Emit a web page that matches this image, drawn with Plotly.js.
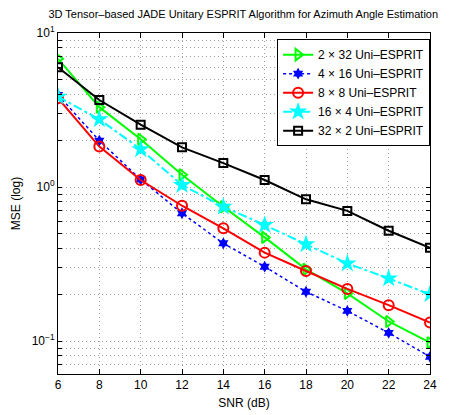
<!DOCTYPE html>
<html><head><meta charset="utf-8">
<script src="https://cdn.plot.ly/plotly-3.0.1.min.js"></script>
<style>body{margin:0;background:#fff}#c{width:453px;height:415px}</style>
</head><body><div id="c"></div>
<script>
const snr = [6, 8, 10, 12, 14, 16, 18, 20, 22, 24];
const names = ["2 \u00d7 32 Uni\u2013ESPRIT", "4 \u00d7 16 Uni\u2013ESPRIT", "8 \u00d7 8 Uni\u2013ESPRIT", "16 \u00d7 4 Uni\u2013ESPRIT", "32 \u00d7 2 Uni\u2013ESPRIT"];
const mse2x32 = [6.8, 3.3, 2.04, 1.2, 0.745, 0.471, 0.292, 0.204, 0.134, 0.0975];
const mse4x16 = [3.96, 2.0, 1.12, 0.675, 0.431, 0.304, 0.209, 0.157, 0.113, 0.079];
const mse8x8  = [3.77, 1.83, 1.11, 0.756, 0.539, 0.375, 0.285, 0.218, 0.171, 0.132];
const mse16x4 = [3.86, 2.75, 1.76, 1.03, 0.745, 0.567, 0.425, 0.319, 0.255, 0.201];
const mse32x2 = [6.0, 3.67, 2.54, 1.81, 1.43, 1.11, 0.832, 0.70, 0.52, 0.403];
const xTicks = [6, 8, 10, 12, 14, 16, 18, 20, 22, 24];
const yMajor = [0.1, 1, 10];
const yMajorText = ["10<sup>\u22121</sup>", "10<sup>0</sup>", "10<sup>1</sup>"];

const yVals = [], yText = [];
for (let d = -2; d <= 1; d++) {
  for (let m = 1; m <= 9; m++) {
    const v = m * Math.pow(10, d);
    if (v < 0.06 || v > 10.001) continue;
    yVals.push(v);
    const idx = yMajor.findIndex(t => Math.abs(t - v) < 1e-9);
    yText.push(idx >= 0 ? yMajorText[idx] : "");
  }
}

const traces = [
  {x: snr, y: mse2x32, name: names[0], mode: 'lines+markers',
   line: {color: '#00ff00', width: 2}, marker: {symbol: 'triangle-right-open', size: 10, color: '#00ff00', line: {width: 2}}},
  {x: snr, y: mse4x16, name: names[1], mode: 'lines+markers',
   line: {color: '#0000ff', width: 1.5, dash: 'dot'}, marker: {symbol: 'hexagram', size: 9, color: '#0000ff'}},
  {x: snr, y: mse8x8, name: names[2], mode: 'lines+markers',
   line: {color: '#ff0000', width: 2}, marker: {symbol: 'circle-open', size: 10, color: '#ff0000', line: {width: 2}}},
  {x: snr, y: mse16x4, name: names[3], mode: 'lines+markers',
   line: {color: '#00ffff', width: 2, dash: 'dashdot'}, marker: {symbol: 'star', size: 14, color: '#00ffff'}},
  {x: snr, y: mse32x2, name: names[4], mode: 'lines+markers',
   line: {color: '#000000', width: 2}, marker: {symbol: 'square-open', size: 8, color: '#000000', line: {width: 2}}}
];

const layout = {
  width: 453, height: 415,
  margin: {l: 58, r: 23, t: 33, b: 41},
  paper_bgcolor: '#fff', plot_bgcolor: '#fff',
  font: {family: 'Liberation Sans, Arial, sans-serif', size: 12, color: '#000'},
  title: {text: '3D Tensor\u2013based JADE Unitary ESPRIT Algorithm for Azimuth Angle Estimation',
          font: {size: 11}, x: 0.537, xanchor: 'center', y: 0.975, yanchor: 'top'},
  xaxis: {range: [6, 24], tickvals: xTicks, ticks: 'inside', ticklen: 5, tickcolor: '#000',
          showline: true, linecolor: '#000', linewidth: 1, mirror: 'ticks', zeroline: false,
          showgrid: true, gridcolor: '#a0a0a0', griddash: '1px,3px', gridwidth: 1,
          title: {text: 'SNR (dB)', font: {size: 12}, standoff: 7}},
  yaxis: {type: 'log', range: [-1.214, 1], tickvals: yVals, ticktext: yText,
          ticks: 'inside', ticklen: 4, tickcolor: '#000',
          showline: true, linecolor: '#000', linewidth: 1, mirror: 'ticks', zeroline: false,
          showgrid: true, gridcolor: '#a0a0a0', griddash: '1px,3px', gridwidth: 1,
          title: {text: 'MSE (log)', font: {size: 12}, standoff: 8}},
  legend: {x: 0.589, y: 0.982, xanchor: 'left', yanchor: 'top', bgcolor: '#fff',
           bordercolor: '#000', borderwidth: 1, font: {size: 12}, tracegroupgap: 0},
  showlegend: true
};
Plotly.newPlot('c', traces, layout, {staticPlot: true});
</script></body></html>
